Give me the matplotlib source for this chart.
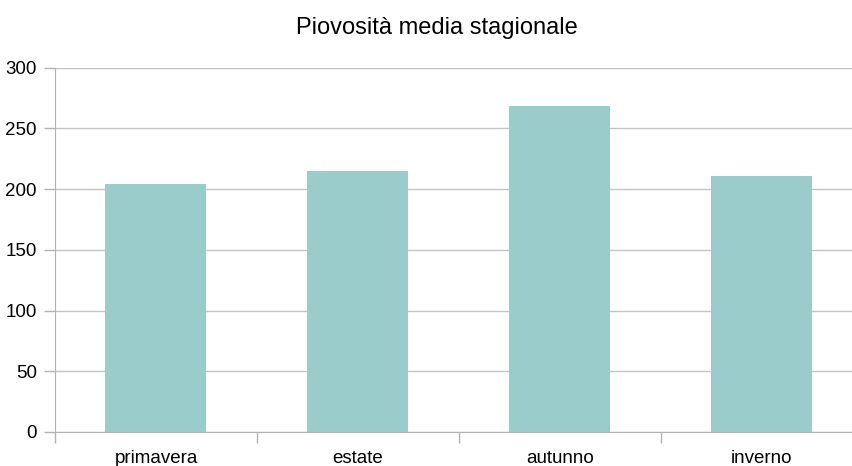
import matplotlib.pyplot as plt

plt.rcParams['font.family'] = ['Liberation Sans', 'DejaVu Sans']

seasons = ['primavera', 'estate', 'autunno', 'inverno']
rain = [204, 215, 268, 210.5]

fig = plt.figure(figsize=(8.53, 4.66), dpi=100)
ax = fig.add_axes([55/853, 34/466, 808/853, 364.5/466])

x = range(len(seasons))
ax.bar(x, rain, width=0.5, color='#9bcccc', zorder=2)

ax.set_xlim(-0.5, len(seasons) - 0.5)
ax.set_ylim(0, 300)
ax.set_yticks(range(0, 301, 50))
ax.yaxis.grid(True, color='#c4c4c4', linewidth=1)
ax.set_axisbelow(True)

# tick labels centred, tick marks on the category borders
ax.set_xticks(list(x))
ax.set_xticklabels(seasons)
ax.set_xticks([i - 0.5 for i in range(len(seasons) + 1)], minor=True)
ax.tick_params(axis='x', which='major', length=0, labelsize=13.5, pad=13)
ax.tick_params(axis='x', which='minor', length=8, width=1, color='#b3b3b3')
ax.tick_params(axis='y', length=8, width=1, color='#b3b3b3', labelsize=13.5, pad=5)

for s in ['top', 'right']:
    ax.spines[s].set_visible(False)
for s in ['left', 'bottom']:
    ax.spines[s].set_color('#b3b3b3')

fig.text(437/853, 0.94, 'Piovosità media stagionale', ha='center', va='center', fontsize=17)

fig.savefig('out.png', dpi=100)
